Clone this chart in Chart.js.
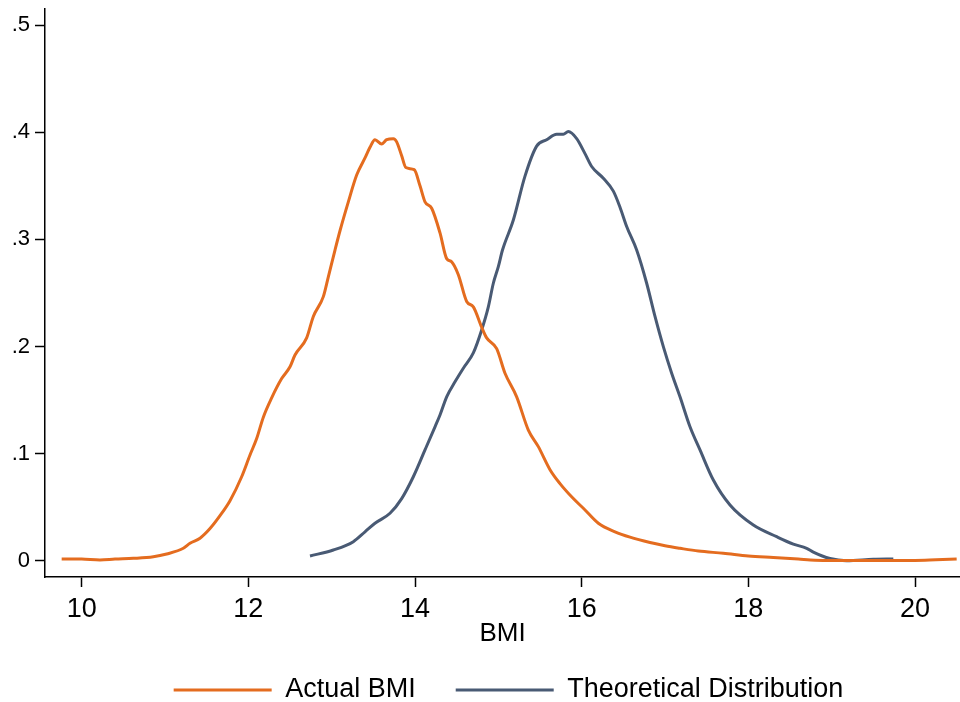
<!DOCTYPE html>
<html>
<head>
<meta charset="utf-8">
<script src="https://cdn.jsdelivr.net/npm/chart.js@4.4.1/dist/chart.umd.min.js"></script>
<style>
  html, body { margin: 0; padding: 0; background: #ffffff; }
  #wrap { width: 960px; height: 702px; position: relative; }
</style>
</head>
<body>
<div id="wrap"><canvas id="c" width="960" height="702"></canvas></div>
<script>
// ---- data ----
const seriesNames = ["Actual BMI", "Theoretical Distribution"];

const actualX = [9.76, 10.0, 10.22, 10.4, 10.62, 10.86, 11.02, 11.22, 11.30, 11.42, 11.54, 11.66, 11.78, 11.92,
  12.02, 12.10, 12.18, 12.28, 12.40, 12.50, 12.56, 12.70, 12.78, 12.90, 12.96, 13.04, 13.10, 13.20, 13.30,
  13.40, 13.46, 13.52, 13.60, 13.66, 13.74, 13.78, 13.84, 13.89, 13.99, 14.06, 14.12, 14.20, 14.30, 14.38,
  14.44, 14.52, 14.62, 14.70, 14.80, 14.86, 14.98, 15.08, 15.22, 15.36, 15.48, 15.62, 15.74, 15.90, 16.02,
  16.20, 16.40, 16.58, 16.82, 17.00, 17.18, 17.40, 17.70, 18.00, 18.30, 18.60, 18.80, 19.00, 19.50, 20.00,
  20.25, 20.50];
const actualY = [0.0016, 0.0015, 0.0007, 0.0015, 0.0022, 0.0037, 0.0063, 0.0116, 0.0163, 0.021, 0.030, 0.042,
  0.056, 0.0784, 0.0987, 0.114, 0.134, 0.152, 0.170, 0.181, 0.192, 0.208, 0.228, 0.2465, 0.265, 0.290, 0.308,
  0.335, 0.360, 0.376, 0.386, 0.393, 0.389, 0.393, 0.394, 0.391, 0.378, 0.367, 0.365, 0.350, 0.335, 0.329,
  0.306, 0.282, 0.279, 0.267, 0.242, 0.237, 0.218, 0.208, 0.198, 0.175, 0.153, 0.122, 0.1065, 0.085, 0.072,
  0.058, 0.049, 0.035, 0.027, 0.022, 0.017, 0.014, 0.0116, 0.009, 0.007, 0.0045, 0.003, 0.0015, 0.0005,
  0.0002, 0.0002, 0.0002, 0.0008, 0.0015];

const theoX = [12.74, 13.02, 13.26, 13.40, 13.52, 13.70, 13.84, 13.98, 14.12, 14.24, 14.30, 14.38, 14.48, 14.58,
  14.70, 14.80, 14.88, 14.94, 15.00, 15.05, 15.18, 15.32, 15.46, 15.58, 15.70, 15.78, 15.84, 15.94, 16.04,
  16.12, 16.26, 16.38, 16.46, 16.54, 16.66, 16.78, 16.88, 16.98, 17.08, 17.18, 17.30, 17.42, 17.58, 17.78,
  18.06, 18.34, 18.54, 18.70, 18.78, 18.98, 19.18, 19.50, 19.74];
const theoY = [0.0044, 0.010, 0.0178, 0.027, 0.035, 0.0443, 0.058, 0.0784, 0.1034, 0.125, 0.136, 0.153, 0.167,
  0.1797, 0.194, 0.2154, 0.237, 0.259, 0.2745, 0.290, 0.318, 0.359, 0.387, 0.393, 0.398, 0.398, 0.4006, 0.394,
  0.380, 0.368, 0.357, 0.345, 0.330, 0.312, 0.290, 0.259, 0.228, 0.1998, 0.175, 0.153, 0.125, 0.1034, 0.0753,
  0.052, 0.0333, 0.0224, 0.0155, 0.0116, 0.008, 0.002, 0.0, 0.0013, 0.0016];

const xTicks = [10, 12, 14, 16, 18, 20];
const yTicks = [0, 0.1, 0.2, 0.3, 0.4, 0.5];
const xTitle = "BMI";

// ---- styling ----
const ORANGE = "#e46c1f";
const SLATE = "#495a74";
const FONT = "'Liberation Sans', Arial, Helvetica, sans-serif";
const LEGEND_PAD = 40;
const LEGEND_FONT = 27;
const LEGEND_CENTER_Y = 690;
const LEGEND_RESERVED_H = 40;

function toPoints(xs, ys) { return xs.map((x, i) => ({ x: x, y: ys[i] })); }

const legendPlacer = {
  id: 'legendPlacer',
  beforeLayout(chart) {
    const lg = chart.legend;
    if (lg && !lg._patchedFit) {
      const orig = lg.fit;
      lg.fit = function () { orig.call(this); this.height = LEGEND_RESERVED_H; };
      lg._patchedFit = true;
    }
  },
  afterLayout(chart) {
    const lg = chart.legend;
    const ca = chart.chartArea;
    if (!lg || !ca) return;
    lg.left = ca.left + 6; lg.right = ca.right + 6; lg.width = lg.right - lg.left;
    lg.top = LEGEND_CENTER_Y - LEGEND_PAD - LEGEND_FONT / 2;
    lg.bottom = chart.height;
    lg.height = lg.bottom - lg.top;
  }
};

new Chart(document.getElementById('c'), {
  type: 'line',
  data: {
    datasets: [
      { label: seriesNames[0], data: toPoints(actualX, actualY), borderColor: ORANGE, backgroundColor: ORANGE,
        borderWidth: 3, pointRadius: 0, cubicInterpolationMode: 'monotone', fill: false },
      { label: seriesNames[1], data: toPoints(theoX, theoY), borderColor: SLATE, backgroundColor: SLATE,
        borderWidth: 3, pointRadius: 0, cubicInterpolationMode: 'monotone', fill: false }
    ]
  },
  options: {
    responsive: false,
    animation: false,
    devicePixelRatio: 1,
    layout: { padding: { left: 0, right: 0, top: 9, bottom: 0 } },
    plugins: {
      legend: {
        position: 'bottom',
        labels: {
          boxWidth: 98, boxHeight: 0, padding: LEGEND_PAD, color: '#000',
          font: { family: FONT, size: LEGEND_FONT }
        }
      },
      tooltip: { enabled: false }
    },
    scales: {
      x: {
        type: 'linear', min: 9.56, max: 20.54,
        afterBuildTicks: s => { s.ticks = xTicks.map(v => ({ value: v })); },
        afterFit: s => { s.height = 85; s.paddingLeft = 0; s.paddingRight = 0; },
        border: { display: true, color: '#000', width: 1.5 },
        grid: { display: true, drawOnChartArea: false, drawTicks: true, tickLength: 10, color: '#000', tickWidth: 1.5 },
        ticks: { color: '#000', padding: 6, maxRotation: 0, font: { family: FONT, size: 27 },
                 callback: v => String(v) },
        title: { display: true, text: xTitle, color: '#000', font: { family: FONT, size: 26 },
                 padding: { top: 0, bottom: 13 } }
      },
      y: {
        type: 'linear', min: -0.0152, max: 0.515,
        afterBuildTicks: s => { s.ticks = yTicks.map(v => ({ value: v })); },
        afterFit: s => { s.width = 45; s.paddingTop = 0; s.paddingBottom = 0; },
        border: { display: true, color: '#000', width: 1.5 },
        grid: { display: true, drawOnChartArea: false, drawTicks: true, tickLength: 10, color: '#000', tickWidth: 1.5 },
        ticks: { color: '#000', padding: 5, font: { family: FONT, size: 22 },
                 callback: v => (v === 0 ? '0' : v.toFixed(1).replace(/^0/, '')) }
      }
    }
  },
  plugins: [legendPlacer]
});
</script>
</body>
</html>
